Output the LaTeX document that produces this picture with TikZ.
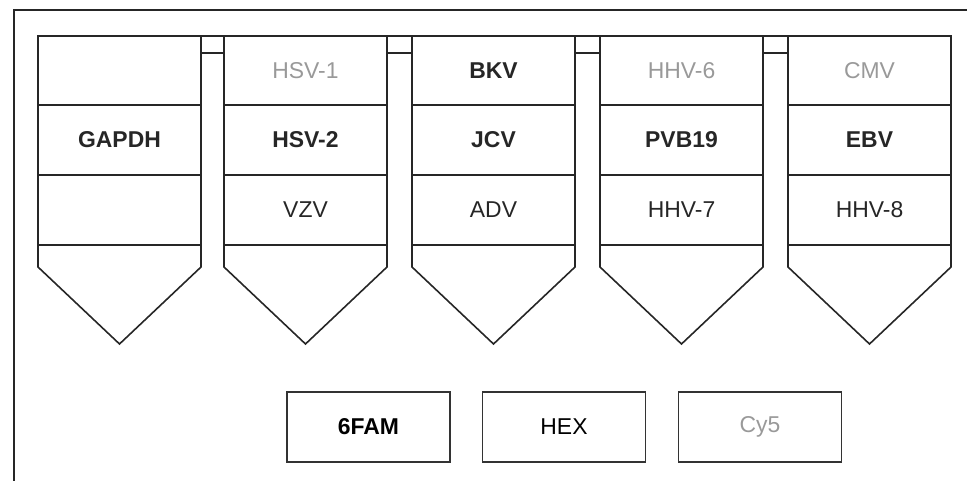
\documentclass[tikz,border=0pt]{standalone}
\usepackage{fontspec}
\setmainfont{Liberation Sans}
\begin{document}
\begin{tikzpicture}[x=1bp,y=-1bp,
  tubeline/.style={draw=black!85, line width=1.6bp, line join=miter},
  rowline/.style={draw=black!85, line width=1.3bp},
  lbl/.style={font=\fontsize{23}{26}\selectfont, text=black!85, inner sep=0pt},
  lblb/.style={lbl, font=\fontsize{23}{26}\selectfont\bfseries},
  lbll/.style={lbl, text=black!40},
  dyebox/.style={draw=black!80, line width=1.4bp, minimum width=163bp, minimum height=70bp, inner sep=0pt, font=\fontsize{23}{26}\selectfont}]
\useasboundingbox (0,0) rectangle (967,481);
\draw[rowline] (14,481) -- (14,10) -- (967,10);
% tubes
\foreach \L in {38,224,412,600,788}{
  \pgfmathsetmacro{\R}{\L+163}
  \pgfmathsetmacro{\C}{\L+81.5}
  \draw[tubeline] (\L,36) -- (\R,36) -- (\R,267) -- (\C,344) -- (\L,267) -- cycle;
  \foreach \y in {105,175,245}{\draw[rowline] (\L,\y) -- (\R,\y);}
}
% bridges between tubes
\foreach \R/\L in {201/224,387/412,575/600,763/788}{
  \draw[tubeline] (\R,36) -- (\L,36);
  \draw[rowline] (\R,53) -- (\L,53);
}
% labels
\node[lblb] (gapdh) at (119.5,140) {GAPDH};
\node[lbll] (hsv1) at (305.5,71) {HSV-1};
\node[lblb] (hsv2) at (305.5,140) {HSV-2};
\node[lbl] (vzv) at (305.5,210) {VZV};
\node[lblb] (bkv) at (493.5,71) {BKV};
\node[lblb] (jcv) at (493.5,140) {JCV};
\node[lbl] (adv) at (493.5,210) {ADV};
\node[lbll] (hhv6) at (681.5,71) {HHV-6};
\node[lblb] (pvb19) at (681.5,140) {PVB19};
\node[lbl] (hhv7) at (681.5,210) {HHV-7};
\node[lbll] (cmv) at (869.5,71) {CMV};
\node[lblb] (ebv) at (869.5,140) {EBV};
\node[lbl] (hhv8) at (869.5,210) {HHV-8};
% dyes
\node[dyebox, font=\fontsize{23}{26}\selectfont\bfseries] (fam) at (368.5,427) {6FAM};
\node[dyebox] (hex) at (564,427) {HEX};
\node[dyebox, text=black!40] (cy5) at (760,427) {Cy5};
\end{tikzpicture}
\end{document}
